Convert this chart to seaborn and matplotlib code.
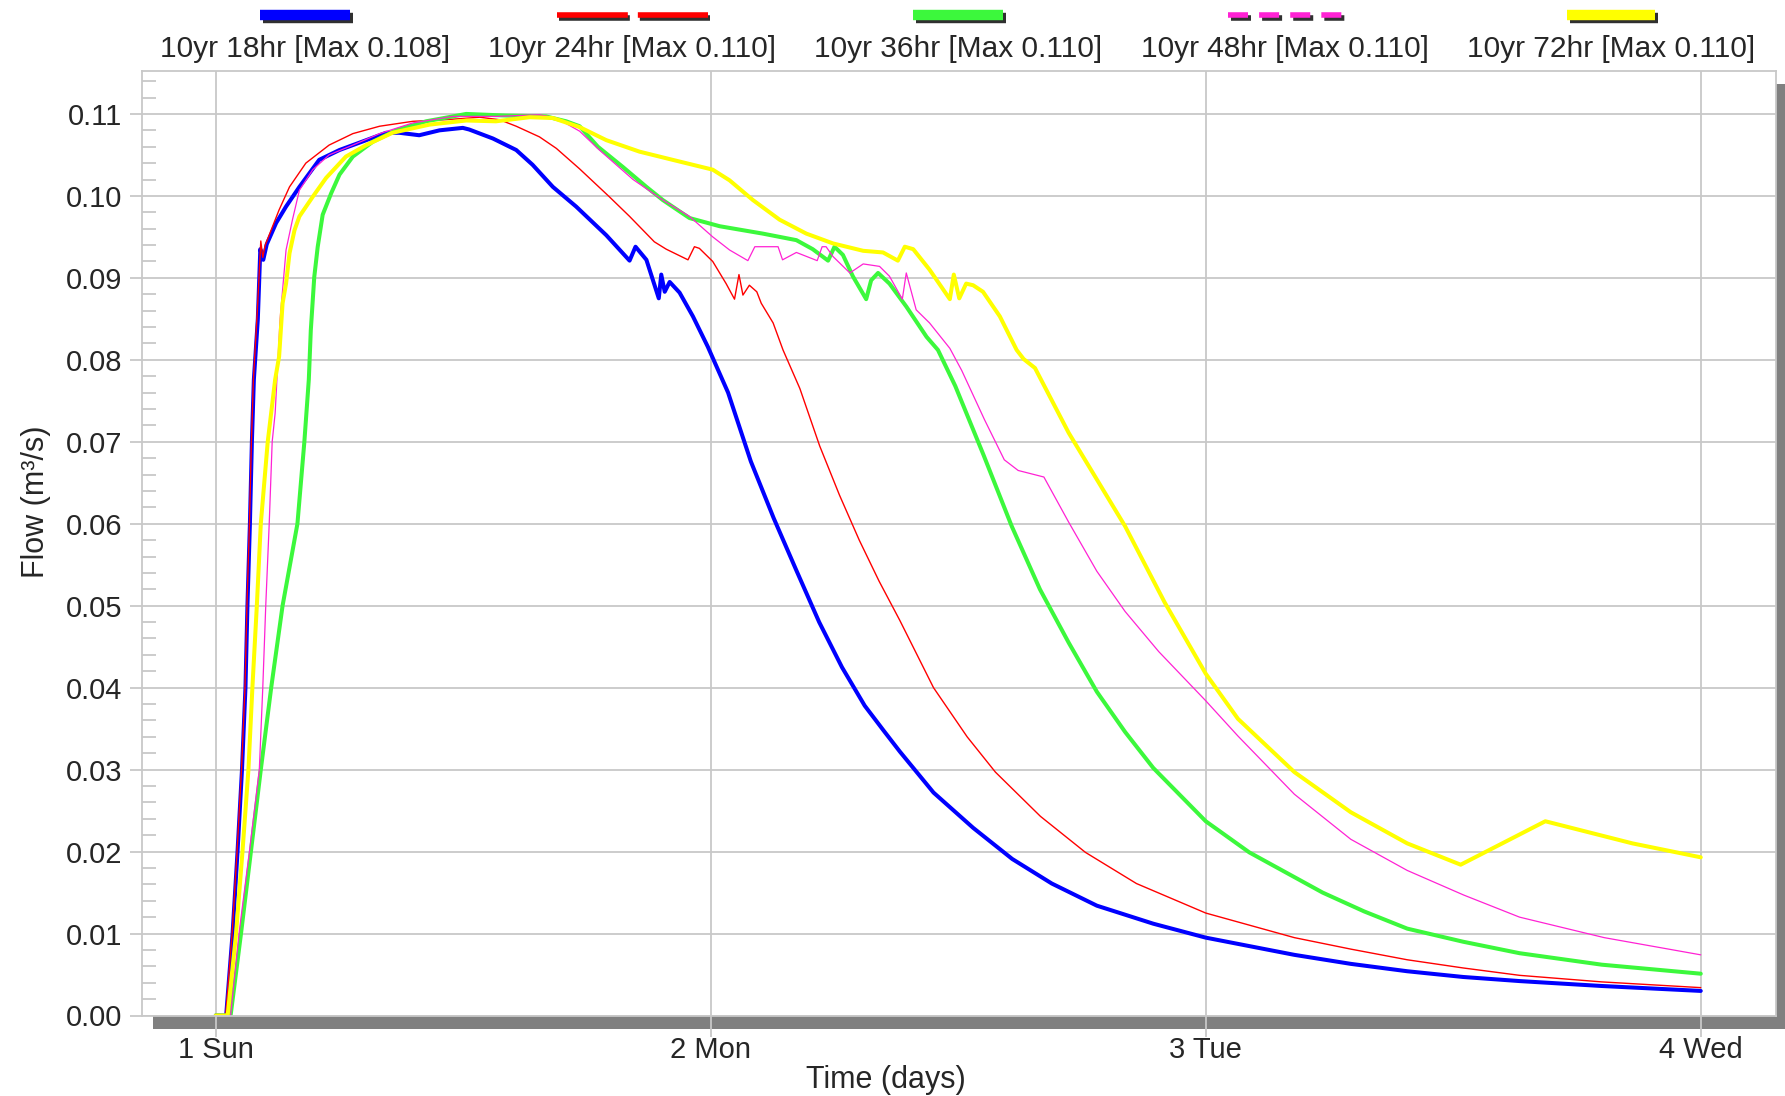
import pandas as pd
import numpy as np
import matplotlib.pyplot as plt
import matplotlib.patheffects as pe
from matplotlib.lines import Line2D
from matplotlib.patches import Rectangle
from matplotlib.ticker import MultipleLocator, FixedLocator, FormatStrFormatter
import seaborn as sns

# hydrographs (x = day, y = flow m3/s)
day_18hr = [1.0, 1.021, 1.034, 1.044, 1.053, 1.06, 1.064, 1.069, 1.073, 1.077, 1.085, 1.09, 1.096, 1.103,
            1.122, 1.142, 1.169, 1.209, 1.25, 1.304, 1.344, 1.371, 1.411, 1.452, 1.499, 1.512, 1.56, 1.607,
            1.64, 1.681, 1.728, 1.789, 1.836, 1.848, 1.87, 1.895, 1.9, 1.907, 1.917, 1.937, 1.964, 1.994,
            2.035, 2.081, 2.127, 2.173, 2.219, 2.265, 2.311, 2.35, 2.382, 2.45, 2.53, 2.609, 2.689, 2.78,
            2.894, 3.0, 3.179, 3.293, 3.407, 3.52, 3.634, 3.8, 4.0]
flow_18hr = [0.0, 0.0, 0.01, 0.02, 0.03, 0.04, 0.05, 0.06, 0.07, 0.0776, 0.085, 0.0935, 0.0922, 0.0941,
             0.0967, 0.0987, 0.1011, 0.1044, 0.1056, 0.1068, 0.1077, 0.1077, 0.1074, 0.108, 0.1083, 0.1081,
             0.107, 0.1056, 0.1038, 0.1011, 0.0987, 0.0952, 0.0921, 0.0938, 0.0922, 0.0875, 0.0904, 0.0883,
             0.0895, 0.0882, 0.0853, 0.0816, 0.076, 0.0676, 0.0607, 0.0543, 0.048, 0.0425, 0.0378, 0.0347,
             0.0322, 0.0272, 0.0229, 0.0191, 0.0161, 0.0134, 0.0112, 0.0095, 0.0074, 0.0063, 0.0054, 0.0047,
             0.0042, 0.0036, 0.003]

day_24hr = [1.0, 1.02, 1.033, 1.043, 1.052, 1.059, 1.063, 1.068, 1.072, 1.076, 1.084, 1.091, 1.095, 1.1,
            1.128, 1.149, 1.182, 1.229, 1.277, 1.331, 1.398, 1.465, 1.533, 1.573, 1.607, 1.654, 1.688,
            1.735, 1.795, 1.836, 1.886, 1.91, 1.954, 1.967, 1.977, 2.004, 2.031, 2.048, 2.057, 2.065,
            2.078, 2.093, 2.102, 2.126, 2.146, 2.18, 2.22, 2.26, 2.3, 2.34, 2.382, 2.45, 2.518, 2.575,
            2.666, 2.757, 2.86, 3.0, 3.179, 3.293, 3.407, 3.52, 3.634, 3.8, 4.0]
flow_24hr = [0.0, 0.0, 0.01, 0.02, 0.03, 0.04, 0.05, 0.06, 0.07, 0.0776, 0.086, 0.0945, 0.0925, 0.094,
             0.0983, 0.1011, 0.104, 0.1062, 0.1076, 0.1085, 0.1091, 0.1093, 0.1096, 0.1093, 0.1085, 0.1072,
             0.1058, 0.1033, 0.0999, 0.0975, 0.0944, 0.0935, 0.0922, 0.0938, 0.0936, 0.092, 0.0893, 0.0874,
             0.0904, 0.0879, 0.0891, 0.0883, 0.0869, 0.0845, 0.0812, 0.0765, 0.0695, 0.0635, 0.058, 0.053,
             0.0482, 0.04, 0.034, 0.0297, 0.0243, 0.0199, 0.0161, 0.0125, 0.0095, 0.0081, 0.0068, 0.0058,
             0.0049, 0.0041, 0.0034]

day_36hr = [1.0, 1.03, 1.051, 1.071, 1.091, 1.112, 1.135, 1.165, 1.179, 1.188, 1.192, 1.199, 1.206, 1.216,
            1.233, 1.25, 1.277, 1.317, 1.364, 1.425, 1.506, 1.587, 1.667, 1.708, 1.735, 1.772, 1.823, 1.87,
            1.903, 1.957, 2.018, 2.105, 2.173, 2.206, 2.237, 2.25, 2.267, 2.287, 2.314, 2.324, 2.338,
            2.361, 2.395, 2.436, 2.459, 2.494, 2.551, 2.608, 2.665, 2.723, 2.78, 2.837, 2.894, 3.0, 3.088,
            3.236, 3.32, 3.407, 3.52, 3.634, 3.8, 4.0]
flow_36hr = [0.0, 0.0, 0.01, 0.02, 0.03, 0.04, 0.05, 0.06, 0.07, 0.0776, 0.0836, 0.0901, 0.0938, 0.0977,
             0.1003, 0.1026, 0.1048, 0.1066, 0.108, 0.1091, 0.11, 0.1098, 0.1097, 0.1091, 0.1085, 0.106,
             0.1035, 0.1011, 0.0995, 0.0973, 0.0963, 0.0954, 0.0946, 0.0935, 0.0921, 0.0938, 0.0928, 0.0902,
             0.0874, 0.0897, 0.0906, 0.0893, 0.0865, 0.0828, 0.0812, 0.0768, 0.0684, 0.0597, 0.052, 0.0455,
             0.0395, 0.0346, 0.0302, 0.0237, 0.0199, 0.015, 0.0127, 0.0106, 0.009, 0.0076, 0.0062, 0.0051]

day_48hr = [1.0, 1.03, 1.047, 1.068, 1.088, 1.095, 1.101, 1.108, 1.114, 1.12, 1.13, 1.142, 1.155, 1.169,
            1.196, 1.229, 1.277, 1.331, 1.398, 1.479, 1.566, 1.654, 1.688, 1.735, 1.775, 1.843, 1.903,
            1.957, 2.004, 2.038, 2.075, 2.089, 2.136, 2.145, 2.173, 2.215, 2.225, 2.233, 2.247, 2.281,
            2.308, 2.341, 2.361, 2.387, 2.395, 2.415, 2.442, 2.483, 2.507, 2.553, 2.593, 2.621, 2.673,
            2.723, 2.78, 2.837, 2.905, 3.0, 3.065, 3.179, 3.293, 3.407, 3.521, 3.634, 3.805, 4.0]
flow_48hr = [0.0, 0.0, 0.01, 0.02, 0.03, 0.04, 0.05, 0.06, 0.07, 0.0735, 0.085, 0.0934, 0.0971, 0.1007,
             0.1032, 0.105, 0.1062, 0.1076, 0.1089, 0.1097, 0.1097, 0.1099, 0.1095, 0.1079, 0.1056, 0.102,
             0.0995, 0.0975, 0.095, 0.0934, 0.0921, 0.0938, 0.0938, 0.0922, 0.0931, 0.0921, 0.0938, 0.0938,
             0.0926, 0.0906, 0.0917, 0.0914, 0.0902, 0.0874, 0.0906, 0.0861, 0.0845, 0.0814, 0.0787, 0.0727,
             0.0678, 0.0665, 0.0657, 0.0602, 0.0542, 0.0493, 0.0444, 0.0384, 0.0341, 0.027, 0.0215, 0.0177,
             0.0147, 0.012, 0.0095, 0.0074]

day_72hr = [1.0, 1.024, 1.041, 1.054, 1.066, 1.074, 1.083, 1.091, 1.105, 1.12, 1.128, 1.135, 1.142, 1.149,
            1.159, 1.169, 1.196, 1.223, 1.263, 1.304, 1.357, 1.432, 1.506, 1.566, 1.634, 1.681, 1.735,
            1.789, 1.856, 1.923, 2.004, 2.038, 2.085, 2.139, 2.193, 2.247, 2.308, 2.348, 2.378, 2.392,
            2.409, 2.442, 2.483, 2.491, 2.502, 2.516, 2.53, 2.55, 2.584, 2.618, 2.632, 2.655, 2.723,
            2.837, 2.917, 3.0, 3.065, 3.179, 3.293, 3.407, 3.515, 3.686, 3.862, 4.0]
flow_72hr = [0.0, 0.0, 0.01, 0.02, 0.03, 0.04, 0.05, 0.06, 0.07, 0.0776, 0.0804, 0.0869, 0.0893, 0.093,
             0.0958, 0.0975, 0.0999, 0.1022, 0.1048, 0.1062, 0.1077, 0.1087, 0.1092, 0.1091, 0.1096, 0.1095,
             0.1084, 0.1068, 0.1054, 0.1044, 0.1032, 0.1019, 0.0995, 0.0971, 0.0954, 0.0942, 0.0933, 0.0931,
             0.0921, 0.0938, 0.0935, 0.091, 0.0874, 0.0904, 0.0875, 0.0893, 0.0891, 0.0883, 0.0853, 0.0812,
             0.0801, 0.079, 0.0711, 0.0597, 0.0504, 0.0417, 0.0362, 0.0297, 0.0248, 0.021, 0.0184, 0.0237,
             0.021, 0.0193]

storms = ['10yr 18hr', '10yr 24hr', '10yr 36hr', '10yr 48hr', '10yr 72hr']
storm_max = ['0.108', '0.110', '0.110', '0.110', '0.110']
colors = ['#0000ff', '#ff0000', '#3cf83c', '#ff22d4', '#ffff00']
widths = [2.9, 1.0, 2.9, 0.9, 2.9]
day_ticks = [1, 2, 3, 4]
day_labels = ['1 Sun', '2 Mon', '3 Tue', '4 Wed']

sns.set_style('white')
plt.rcParams['font.family'] = ['Liberation Sans', 'DejaVu Sans']
plt.rcParams['lines.scale_dashes'] = False

frames = []
for name, d, f in zip(storms, [day_18hr, day_24hr, day_36hr, day_48hr, day_72hr],
                      [flow_18hr, flow_24hr, flow_36hr, flow_48hr, flow_72hr]):
    frames.append(pd.DataFrame({'day': d, 'flow': f, 'storm': name}))
df = pd.concat(frames, ignore_index=True)

W, H = 1785, 1096
fig = plt.figure(figsize=(W / 100, H / 100), dpi=100, facecolor='white')
ax_l, ax_r, ax_t, ax_b = 142, 1776, 70.5, 1015.5
ax = fig.add_axes([ax_l / W, 1 - ax_b / H, (ax_r - ax_l) / W, (ax_b - ax_t) / H])

# drop shadow behind the plot frame
fig.add_artist(Rectangle(((ax_l + 11) / W, 1 - (ax_b + 13) / H), (ax_r - ax_l) / W, (ax_b - ax_t) / H,
                         transform=fig.transFigure, facecolor='#808080', edgecolor='none', zorder=-1))

sns.lineplot(data=df, x='day', y='flow', hue='storm', size='storm',
             palette=dict(zip(storms, colors)), sizes=dict(zip(storms, widths)),
             estimator=None, sort=False, legend=False, ax=ax)

ax.set_xlim(0.851, 4.152)
ax.set_ylim(0, 0.1153)
ax.xaxis.set_major_locator(FixedLocator(day_ticks))
ax.set_xticklabels(day_labels)
ax.yaxis.set_major_locator(MultipleLocator(0.01))
ax.yaxis.set_minor_locator(MultipleLocator(0.002))
ax.yaxis.set_major_formatter(FormatStrFormatter('%.2f'))
ax.grid(True, which='major', color='#c8c8c8', lw=1.3)
ax.set_axisbelow(True)
ax.tick_params(axis='y', which='major', direction='out', length=9, width=1.3, color='#c8c8c8',
               pad=5, labelsize=21, left=True)
ax.tick_params(axis='y', which='minor', direction='in', length=10, width=1.3, color='#c8c8c8', left=True)
ax.tick_params(axis='x', which='major', direction='out', length=15, width=1.3, color='#c8c8c8',
               pad=0, labelsize=21, bottom=True)
for s in ax.spines.values():
    s.set_color('#c8c8c8')
    s.set_linewidth(1.3)

ax.set_xlabel('Time (days)', fontsize=22)
ax.xaxis.set_label_coords(0.455, -0.052)
ax.set_ylabel('Flow (m³/s)', fontsize=22)
ax.yaxis.set_label_coords(-0.0555, 0.544)

# legend across the top: sample line above each label
centers = [305, 632, 958, 1285, 1611]
half = [45, 75.5, 45, 57, 44]
thick = [7.5, 4, 7.5, 4, 7.5]
dash = [None, (0, (51, 7.2)), None, (0, (14.4, 8)), None]
shadow = [pe.SimpleLineShadow(offset=(2, -2), shadow_color='#303030', alpha=1.0), pe.Normal()]
for name, mx, c, xc, hw, lw, ls in zip(storms, storm_max, colors, centers, half, thick, dash):
    ln = Line2D([(xc - hw) / W, (xc + hw) / W], [1 - 15 / H, 1 - 15 / H], transform=fig.transFigure,
                color=c, lw=lw, linestyle=ls if ls else '-', solid_capstyle='butt',
                dash_capstyle='butt', path_effects=shadow)
    fig.add_artist(ln)
    fig.text(xc / W, 1 - 49 / H, f'{name} [Max {mx}]', ha='center', va='center', fontsize=21.5)

fig.savefig('out.png', dpi=100, facecolor='white')
